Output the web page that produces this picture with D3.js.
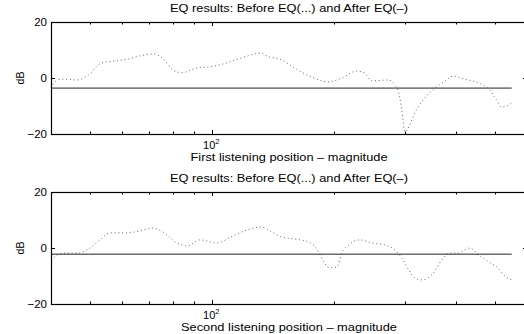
<!DOCTYPE html>
<html><head><meta charset="utf-8">
<script src="https://cdn.jsdelivr.net/npm/d3@7"></script>
<style>
html,body{margin:0;padding:0;background:#fff;}
svg{display:block;font-family:"Liberation Sans",Arial,Helvetica,sans-serif;}
</style></head>
<body>
<script>
// ---- data ----
const freqTop = [40, 41.4, 42.8, 46.4, 49.4, 53.4, 56.9, 61.6, 66.4, 71.4, 75.6, 80.0, 84.2, 91.8, 98.8, 106.4, 117.2, 132.8, 135.0, 148.8, 160.2, 176.4, 194.3, 209.2, 227.8, 238.4, 248.1, 273.3, 282.8, 289.4, 294.3, 299.4, 306.3, 316.9, 335.4, 355.1, 373.7, 395.5, 420.9, 455.9, 482.5, 505, 519.6, 535, 550];
const dbTop   = [-3.5, -0.8, -0.4, -0.7, 1.0, 5.4, 6.0, 6.7, 7.9, 8.6, 7.0, 2.9, 1.9, 3.6, 4.0, 5.0, 7.0, 8.9, 8.2, 6.4, 3.5, 0.3, -1.4, 0.0, 2.5, 1.7, -1.0, -0.7, -2.5, -5.4, -11.4, -19.3, -17.5, -12.5, -7.1, -3.6, -1.4, 0.7, -0.4, -1.8, -3.9, -7.9, -10.4, -10.0, -8.9];
const freqBot = [40, 42.8, 46.4, 49.1, 52.8, 55.9, 61.6, 66.4, 71.4, 75.6, 81.9, 86.7, 93.3, 102.8, 112.6, 121.9, 132.8, 135.0, 148.8, 160.2, 173.4, 183.6, 188.9, 195.4, 203.4, 209.2, 217.7, 231.8, 248.1, 267.2, 282.8, 294.3, 306.3, 316.9, 329.8, 349.1, 369.4, 386.6, 406.8, 433.1, 455.9, 482.5, 505, 525.6, 543.6, 550];
const dbBot   = [-4.3, -1.8, -1.8, -0.7, 2.9, 5.4, 5.4, 6.1, 7.1, 5.7, 1.8, 0.7, 2.9, 1.8, 4.3, 6.4, 7.5, 7.1, 3.9, 3.2, 2.1, -1.4, -5.0, -7.1, -6.8, -1.8, 1.1, 2.9, 1.8, 1.1, -0.7, -3.6, -7.9, -10.7, -11.4, -9.6, -4.3, -1.8, -1.8, 0.0, -2.5, -5.0, -6.8, -9.6, -11.1, -11.3];
const afterTop = -3.6;
const afterBot = -2.2;
const yTicks = [-20, 0, 20];
const xTicks = [40, 50, 60, 70, 80, 90, 100, 200, 300, 400, 500, 600];
const titleText = "EQ results: Before EQ(...) and After EQ(\u2013)";
const xLabels = ["First listening position \u2013 magnitude", "Second listening position \u2013 magnitude"];
const yLabel = "dB";

// ---- drawing ----
const W = 524, H = 334;
const svg = d3.select("body").append("svg").attr("width", W).attr("height", H);
const x = d3.scaleLog().domain([40, 600]).range([51, 527]);

const panels = [
  {top: 22, bottom: 134, f: freqTop, v: dbTop, after: afterTop, xl: xLabels[0], xlw: 197},
  {top: 192, bottom: 304, f: freqBot, v: dbBot, after: afterBot, xl: xLabels[1], xlw: 216}
];

panels.forEach(p => {
  const y = d3.scaleLinear().domain([-20, 20]).range([p.bottom, p.top]);
  const g = svg.append("g");
  const x0 = x.range()[0], x1 = x.range()[1];
  const cx = (x0 + x1) / 2;

  // curves
  const line = d3.line().x((d, i) => x(p.f[i])).y(d => y(d)).curve(d3.curveMonotoneX);
  g.append("path").datum(p.v).attr("d", line)
    .attr("fill", "none").attr("stroke", "#666").attr("stroke-width", 1)
    .attr("stroke-dasharray", "1,2.8");
  g.append("line").attr("x1", x(40)).attr("x2", x(550))
    .attr("y1", y(p.after)).attr("y2", y(p.after))
    .attr("stroke", "#222").attr("stroke-width", 1);

  // frame
  g.append("rect").attr("x", x0 + 0.5).attr("y", p.top + 0.5)
    .attr("width", x1 - x0).attr("height", p.bottom - p.top)
    .attr("fill", "none").attr("stroke", "#000").attr("stroke-width", 1.2);

  // x ticks (inward, both top and bottom)
  xTicks.forEach(t => {
    const len = t === 100 ? 4 : 2.5;
    const xx = Math.round(x(t)) + 0.5;
    g.append("line").attr("x1", xx).attr("x2", xx).attr("y1", p.bottom).attr("y2", p.bottom - len).attr("stroke", "#000");
    g.append("line").attr("x1", xx).attr("x2", xx).attr("y1", p.top).attr("y2", p.top + len).attr("stroke", "#000");
  });
  // y ticks inward, both sides
  yTicks.forEach(t => {
    const yy = Math.round(y(t)) + 0.5;
    g.append("line").attr("x1", x0).attr("x2", x0 + 4).attr("y1", yy).attr("y2", yy).attr("stroke", "#000");
    g.append("line").attr("x1", x1).attr("x2", x1 - 4).attr("y1", yy).attr("y2", yy).attr("stroke", "#000");
    g.append("text").attr("x", x0 - 4).attr("y", y(t) + 4).attr("text-anchor", "end")
      .attr("font-size", 11.5).text(t < 0 ? "\u2212" + Math.abs(t) : String(t));
  });
  // 10^2 label
  const lbl = g.append("text").attr("x", x(100) - 9).attr("y", p.bottom + 15).attr("font-size", 11);
  lbl.append("tspan").text("10");
  lbl.append("tspan").attr("font-size", 7.5).attr("dy", -5).text("2");

  // title
  g.append("text").attr("x", cx - 119).attr("y", p.top - 10)
    .attr("font-size", 10.5).attr("textLength", 238).attr("lengthAdjust", "spacingAndGlyphs").text(titleText);
  // x label
  g.append("text").attr("x", cx - p.xlw / 2).attr("y", p.bottom + 27)
    .attr("font-size", 10.5).attr("textLength", p.xlw).attr("lengthAdjust", "spacingAndGlyphs").text(p.xl);
  // y label
  g.append("text").attr("transform", `translate(24,${y(0)}) rotate(-90)`).attr("text-anchor", "middle")
    .attr("font-size", 10.5).text(yLabel);
});
</script>
</body></html>
